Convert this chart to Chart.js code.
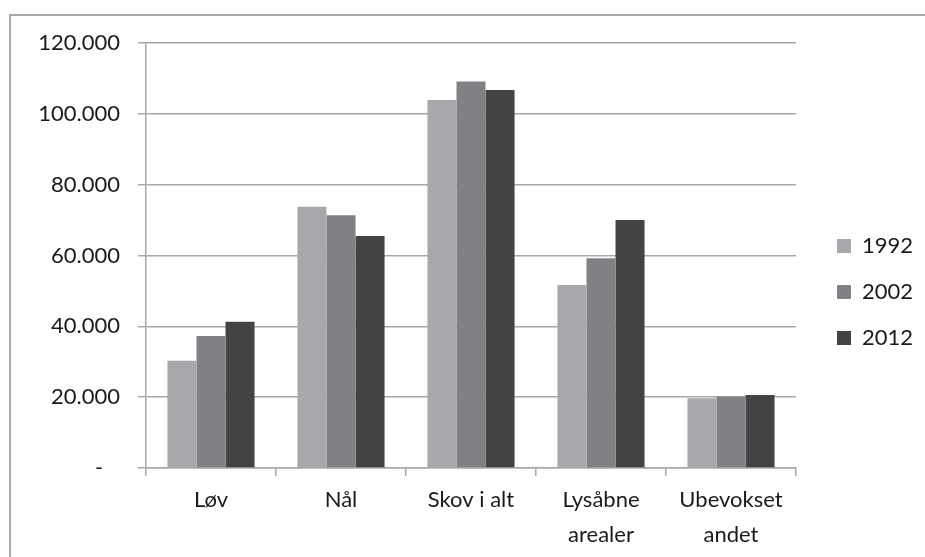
<!DOCTYPE html>
<html lang="da">
<head>
    <meta charset="UTF-8">
    <title>Areal 1992-2012</title>
    <script src="https://cdn.jsdelivr.net/npm/chart.js@4.4.1/dist/chart.umd.min.js"></script>
    <style>
        body {
            margin: 0;
            background: #fff;
            width: 925px;
            height: 557px;
            overflow: hidden;
            position: relative;
        }
        .frame {
            position: absolute;
            left: 9px;
            top: 14px;
            width: 940px;
            height: 560px;
            border-top: 2px solid #a8a8a8;
            border-left: 2px solid #a8a8a8;
        }
        .chart-box {
            position: absolute;
            left: 11px;
            top: 16px;
            width: 914px;
            height: 541px;
        }
    </style>
</head>
<body>
    <div class="frame"></div>
    <div class="chart-box">
        <canvas id="barChart"></canvas>
    </div>
    <script>
        // data
        const categories = [['Løv'], ['Nål'], ['Skov i alt'], ['Lysåbne', 'arealer'], ['Ubevokset', 'andet']];
        const years = ['1992', '2002', '2012'];
        const values1992 = [30300, 73800, 103900, 51700, 19700];
        const values2002 = [37300, 71400, 109100, 59200, 20100];
        const values2012 = [41300, 65500, 106700, 70000, 20600];
        const yTicks = [0, 20000, 40000, 60000, 80000, 100000, 120000];

        const colors = ['#a6a8ab', '#7f8184', '#434343'];
        const gridColor = '#a8a8a8';
        const textColor = '#1a1a1a';
        const font = { family: 'Lato, "Open Sans", sans-serif', size: 22 };

        function fmt(v) {
            if (v === 0) return '-   ';
            return (v / 1000).toFixed(0) + '.000';
        }

        // legend: fixed width so the plot ends where it does in the original,
        // then nudge the legend box to the spot of the original legend
        const legendPlace = {
            id: 'legendPlace',
            beforeLayout(chart) {
                const lg = chart.legend;
                if (lg && !lg._fixed) {
                    const fit = lg.fit;
                    lg.fit = function () {
                        fit.call(this);
                        this.width = 129;
                    };
                    lg._fixed = true;
                }
            },
            afterLayout(chart) {
                const lg = chart.legend;
                const dx = 802 - lg.left;
                const dy = -8;
                lg.left += dx; lg.right += dx;
                lg.top += dy; lg.bottom += dy;
            }
        };

        const ctx = document.getElementById('barChart').getContext('2d');
        new Chart(ctx, {
            type: 'bar',
            data: {
                labels: categories,
                datasets: [values1992, values2002, values2012].map((d, i) => ({
                    label: years[i],
                    data: d,
                    backgroundColor: colors[i],
                    borderWidth: 0,
                    categoryPercentage: 0.67,
                    barPercentage: 1.0
                }))
            },
            plugins: [legendPlace],
            options: {
                responsive: true,
                maintainAspectRatio: false,
                animation: false,
                layout: { padding: { top: 27, right: 0, bottom: 0, left: 0 } },
                plugins: {
                    tooltip: { enabled: false },
                    legend: {
                        position: 'right',
                        labels: {
                            color: textColor,
                            font: font,
                            boxWidth: 14,
                            boxHeight: 14,
                            padding: 24
                        }
                    }
                },
                scales: {
                    x: {
                        offset: true,
                        grid: {
                            drawOnChartArea: false,
                            drawTicks: true,
                            tickLength: 8,
                            color: gridColor,
                            lineWidth: 1.5
                        },
                        border: { display: true, color: gridColor, width: 1.5 },
                        ticks: {
                            color: textColor,
                            font: { ...font, lineHeight: 1.6 },
                            padding: 6,
                            maxRotation: 0,
                            autoSkip: false
                        },
                        afterFit(scale) { scale.height = 89; }
                    },
                    y: {
                        min: 0,
                        max: 120000,
                        afterBuildTicks(scale) {
                            scale.ticks = yTicks.map(v => ({ value: v }));
                        },
                        grid: {
                            color: gridColor,
                            lineWidth: 1.5,
                            drawTicks: true,
                            tickLength: 8
                        },
                        border: { display: true, color: gridColor, width: 1.5 },
                        ticks: {
                            color: textColor,
                            font: font,
                            padding: 18,
                            callback: v => fmt(v)
                        },
                        afterFit(scale) {
                            scale.width = 135;
                            scale.paddingTop = 0;
                            scale.paddingBottom = 0;
                        }
                    }
                }
            }
        });
    </script>
</body>
</html>
